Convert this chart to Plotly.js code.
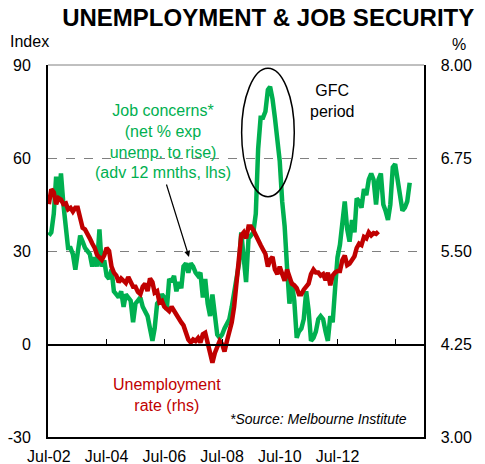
<!DOCTYPE html>
<html>
<head>
<meta charset="utf-8">
<script src="https://cdn.plot.ly/plotly-3.0.1.min.js"></script>
<style>html,body{margin:0;padding:0;background:#fff;}</style>
</head>
<body>
<div id="chart" style="width:485px;height:464px;"></div>
<script>
// Monthly series, first point Jul-2002
const startYear = 2002, startMonth = 7;

// Job concerns (net % expecting unemployment to rise, advanced 12 months, lhs)
const jobConcerns = [
  35,36,42,54,46,55,45,36,31,31,
  29,24,30,35,33,31,30,29,25,28,
  25,37,25,27,22,21,24,17,16,15,
  17,12,16,15,14,7,13,14,15,12,
  10,9,5,1,5,13,14,16,15,11,
  21,20,22,17,20,18,25,26,23,26,
  25,23,22,23,15,21,13,9,16,8,
  3,2,3,5,7,8,12,16,20,26,
  36,28,20,34,35,36,42,63,73,73,
  75,82,83,79,73,67,59,46,38,25,
  13,20,14,2,4,5,8,17,11,1,
  2,4,8,9,8,4,1,9,7,18,
  28,32,38,46,37,33,40,36,47,46,
  44,50,48,53,55,53,45,53,55,45,
  43,40,45,57,58,53,50,43,44,46,
  52
];

// Unemployment rate (%, rhs)
const unemploymentRate = [
  6.13,6.33,6.29,6.13,6.21,6.19,6.13,6.14,6.06,6.08,
  6.03,6.08,6.08,5.96,5.81,5.79,5.71,5.67,5.60,5.54,
  5.45,5.42,5.38,5.44,5.54,5.50,5.29,5.21,5.17,5.08,
  5.13,5.10,5.07,5.15,5.08,5.02,5.02,4.95,4.92,5.02,
  5.06,4.96,5.13,5.08,4.94,4.96,4.81,4.83,4.75,4.71,
  4.69,4.75,4.69,4.63,4.58,4.54,4.50,4.42,4.31,4.27,
  4.31,4.29,4.33,4.27,4.38,4.40,4.25,4.13,4.00,4.13,
  4.23,4.29,4.25,4.15,4.29,4.40,4.54,4.75,5.08,5.38,
  5.71,5.75,5.67,5.83,5.83,5.78,5.72,5.67,5.58,5.52,
  5.46,5.29,5.38,5.42,5.25,5.19,5.29,5.19,5.10,5.25,
  5.17,5.06,5.04,5.00,4.92,4.92,4.98,5.02,5.06,5.19,
  5.25,5.21,5.21,5.17,5.19,5.11,5.21,5.04,5.17,5.21,
  5.23,5.23,5.38,5.44,5.31,5.33,5.38,5.43,5.54,5.60,
  5.58,5.69,5.67,5.75,5.71,5.74,5.73,5.76
];

const xTickVals = ['2002-07-01','2004-07-01','2006-07-01','2008-07-01','2010-07-01','2012-07-01'];
const xTickText = ['Jul-02','Jul-04','Jul-06','Jul-08','Jul-10','Jul-12'];
const zeroTickVals = ['2002-07-01','2004-07-01','2006-07-01','2008-07-01','2010-07-01','2012-07-01','2014-07-01'];
const yTickVals = [-30,0,30,60,90];
const yTickText = ['-30','0','30','60','90'];
const y2TickVals = [3,4.25,5.5,6.75,8];
const y2TickText = ['3.00','4.25','5.50','6.75','8.00'];
const xRange = ['2002-06-20','2015-07-01'];

function monthDates(n){
  const out = [];
  for(let i=0;i<n;i++){
    const t = (startMonth-1) + i;
    const y = startYear + Math.floor(t/12);
    const m = (t % 12) + 1;
    out.push(y + '-' + String(m).padStart(2,'0') + '-01');
  }
  return out;
}

const GREEN = 'rgb(0,176,80)';
const RED = 'rgb(192,0,0)';

const traces = [
  {x: monthDates(jobConcerns.length), y: jobConcerns, type:'scatter', mode:'lines',
   line:{color:GREEN, width:4.5}, xaxis:'x', yaxis:'y', hoverinfo:'skip'},
  {x: monthDates(unemploymentRate.length), y: unemploymentRate, type:'scatter', mode:'lines',
   line:{color:RED, width:4.5}, xaxis:'x2', yaxis:'y2', hoverinfo:'skip'}
];

const layout = {
  width:485, height:464,
  margin:{l:48, r:61, t:65, b:27, pad:0},
  paper_bgcolor:'#ffffff', plot_bgcolor:'#ffffff',
  font:{family:'"Liberation Sans", Arial, sans-serif', size:16, color:'#000'},
  showlegend:false,
  title:{text:'<b>UNEMPLOYMENT & JOB SECURITY</b>', font:{size:24, color:'#000'},
         x:0.553, xanchor:'center', xref:'container', y:0.963, yanchor:'middle', yref:'container'},
  xaxis:{type:'date', range:xRange, tickvals:xTickVals, ticktext:xTickText, ticks:'',
         showgrid:false, zeroline:false, showline:true, linecolor:'#000', linewidth:1.5,
         ticklabelstandoff:4, tickfont:{size:16}},
  xaxis2:{type:'date', range:xRange, overlaying:'x', anchor:'free', position:0.25, side:'bottom',
          tickvals:zeroTickVals, ticks:'inside', ticklen:5, tickwidth:1, tickcolor:'#000',
          showticklabels:false, showline:true, linecolor:'#000', linewidth:1.5,
          showgrid:false, zeroline:false},
  yaxis:{range:[-30,90], tickvals:yTickVals, ticktext:yTickText, ticks:'', showgrid:true, griddash:'dash',
         gridcolor:'#808080', gridwidth:1, zeroline:false, showline:true, linecolor:'#000',
         linewidth:2, ticklabelstandoff:12, tickfont:{size:16}},
  yaxis2:{range:[3,8], overlaying:'y', anchor:'x', side:'right', tickvals:y2TickVals, ticktext:y2TickText,
          ticks:'', showgrid:false, zeroline:false, showline:true, linecolor:'#000', linewidth:1.5,
          ticklabelstandoff:12, tickfont:{size:16}},
  shapes:[
    {type:'line', xref:'paper', yref:'paper', x0:0, x1:1, y0:1, y1:1, line:{color:'#808080', width:1}},
    {type:'circle', xref:'paper', yref:'paper', x0:0.515, x1:0.655, y0:0.646, y1:0.991,
     line:{color:'#000', width:1.5}, layer:'above'}
  ],
  annotations:[
    {xref:'paper', yref:'paper', x:0.306, y:0.794, xanchor:'center', yanchor:'middle', showarrow:false,
     text:'Job concerns*<br>(net % exp<br>unemp. to rise)<br>(adv 12 mnths, lhs)', font:{color:GREEN, size:16}},
    {xref:'paper', yref:'paper', x:0.375, y:0.484, ax:-23, ay:-74, text:'', showarrow:true,
     arrowhead:2, arrowsize:1, arrowwidth:1.2, arrowcolor:'#000'},
    {xref:'paper', yref:'paper', x:0.755, y:0.902, xanchor:'center', yanchor:'middle', showarrow:false,
     text:'GFC<br>period', font:{color:'#000', size:16}},
    {xref:'paper', yref:'paper', x:0.3165, y:0.113, xanchor:'center', yanchor:'middle', showarrow:false,
     text:'Unemployment<br>rate (rhs)', font:{color:RED, size:16}},
    {xref:'paper', yref:'paper', x:0.960, y:0.048, xanchor:'right', yanchor:'middle', showarrow:false,
     text:'<i>*Source: Melbourne Institute</i>', font:{color:'#000', size:14}},
    {xref:'paper', yref:'paper', x:0.008, y:1.062, xanchor:'right', yanchor:'middle', showarrow:false,
     text:'Index', font:{color:'#000', size:16}},
    {xref:'paper', yref:'paper', x:1.093, y:1.056, xanchor:'center', yanchor:'middle', showarrow:false,
     text:'%', font:{color:'#000', size:16}}
  ]
};

Plotly.newPlot('chart', traces, layout, {staticPlot:true, displayModeBar:false});
</script>
</body>
</html>
